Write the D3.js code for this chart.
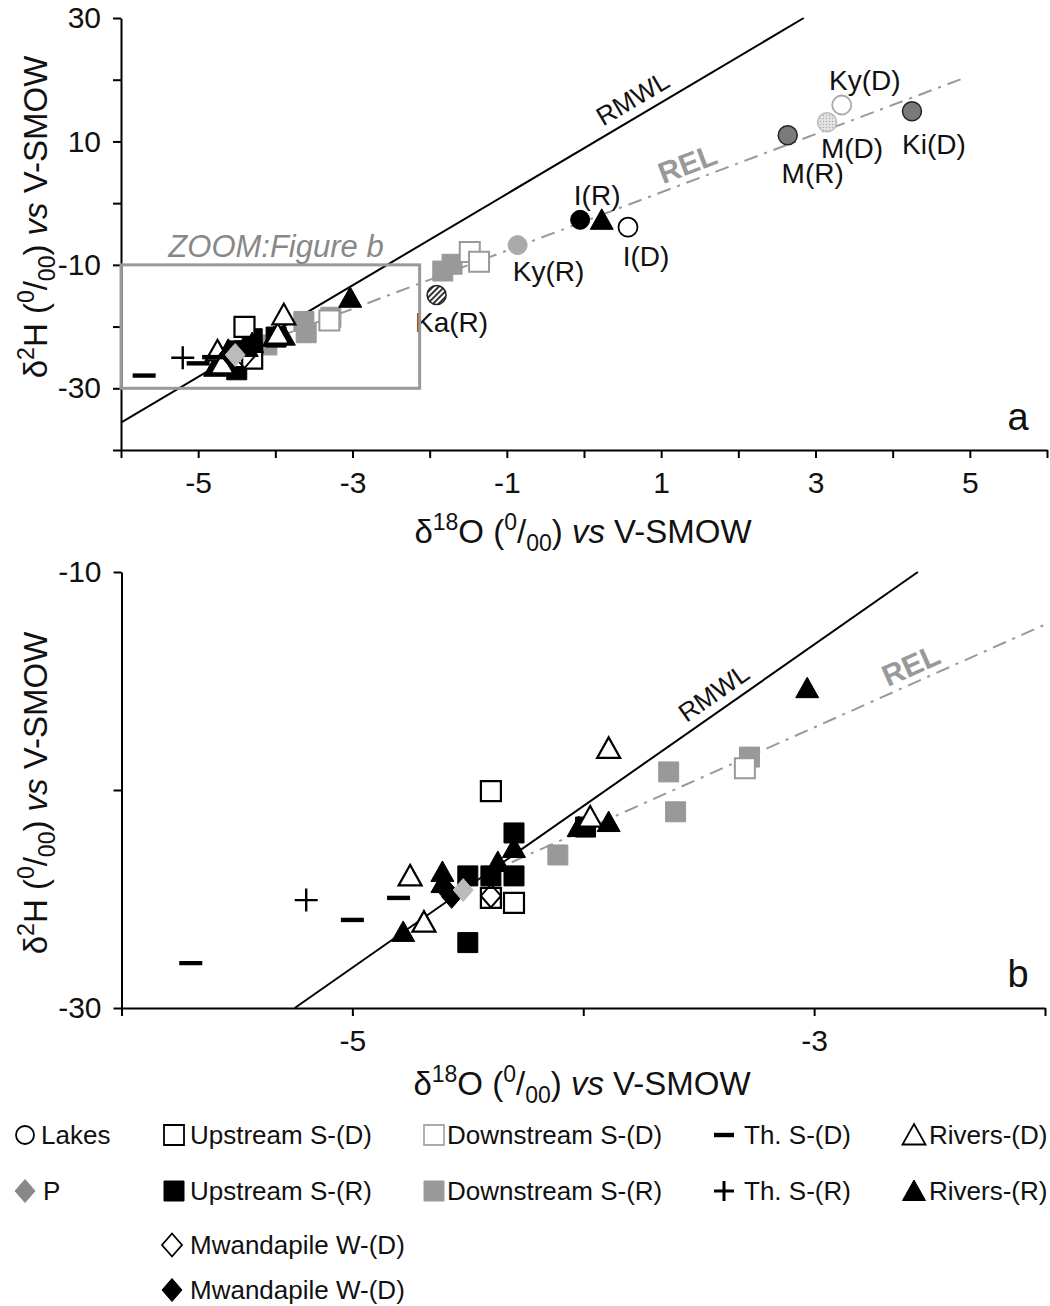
<!DOCTYPE html>
<html><head><meta charset="utf-8">
<script src="https://cdn.jsdelivr.net/npm/d3@7"></script>
<style>
body{margin:0;background:#fff;}
svg{display:block;font-family:"Liberation Sans",Arial,sans-serif;}
</style></head><body>
<svg id="c" width="1050" height="1306"></svg>
<script>
// ---------------- DATA ----------------
const lakeNames = ["Ka(R)","Ky(R)","I(R)","I(D)","M(R)","M(D)","Ky(D)","Ki(D)"];
const lakeX = [-1.91,-0.86,-0.05,0.57,2.64,3.15,3.34,4.25];
const lakeY = [-14.9,-6.8,-2.7,-3.9,11.0,13.1,15.9,14.9];

const upstreamD_X = [-4.40,-4.40,-4.30];
const upstreamD_Y = [-20.05,-24.95,-25.18];
const upstreamR_X = [-4.50,-4.40,-4.30,-4.30,-4.50,-3.99];
const upstreamR_Y = [-23.94,-23.94,-23.94,-21.97,-27.0,-21.7];
const downstreamD_X = [-3.30,-1.48,-1.36];
const downstreamD_Y = [-19.0,-7.9,-9.5];
const downstreamR_X = [-4.11,-3.63,-3.60,-3.28,-1.83,-1.71];
const downstreamR_Y = [-22.98,-19.17,-21.0,-18.49,-11.0,-9.9];
const thD_X = [-5.70,-5.00,-4.80];
const thD_Y = [-27.94,-25.96,-24.95];
const thR_X = [-5.20];
const thR_Y = [-25.05];
const riversD_X = [-4.75,-4.69,-3.97,-3.89];
const riversD_Y = [-23.94,-26.06,-21.24,-18.09];
const riversR_X = [-4.78,-4.61,-4.61,-4.37,-4.30,-4.02,-3.89,-3.03,0.23];
const riversR_Y = [-26.51,-23.76,-24.27,-23.3,-22.66,-21.7,-21.47,-15.33,-2.7];
const mwOpen_X = [-4.40];
const mwOpen_Y = [-24.86];
const mwBlack_X = [-4.60,-4.57];
const mwBlack_Y = [-24.5,-24.9];
const p_X = [-4.52];
const p_Y = [-24.59];

// Lines: d2H = slope * d18O + intercept
const rmwlSlope = 7.41, rmwlIntercept = 8.9;
const relSlope = 4.72, relIntercept = -2.97;
const relStartX = -4.31, relEndXTop = 4.96;

const topXTicks = [-6,-5,-4,-3,-2,-1,0,1,2,3,4,5,6];
const topXLabels = [-5,-3,-1,1,3,5];
const topYTicks = [-40,-30,-20,-10,0,10,20,30];
const topYLabels = [30,10,-10,-30];
const botXTicks = [-6,-5,-4,-3,-2];
const botXLabels = [-5,-3];
const botYTicks = [-30,-20,-10];
const botYLabels = [-10,-30];

const legendRow1 = ["Lakes","Upstream S-(D)","Downstream S-(D)","Th. S-(D)","Rivers-(D)"];
const legendRow2 = ["P","Upstream S-(R)","Downstream S-(R)","Th. S-(R)","Rivers-(R)"];
const legendRow3 = ["Mwandapile W-(D)"];
const legendRow4 = ["Mwandapile W-(D)"];

// ---------------- STYLE ----------------
const lakeStyle = {
  "Ka(R)": {fill:"url(#hatch)", stroke:"#222", sw:1.5},
  "Ky(R)": {fill:"#aaa", stroke:"#aaa", sw:1},
  "I(R)":  {fill:"#000", stroke:"#000", sw:1},
  "I(D)":  {fill:"#fff", stroke:"#000", sw:1.8},
  "M(R)":  {fill:"#7a7a7a", stroke:"#222", sw:1.5},
  "M(D)":  {fill:"url(#dots)", stroke:"#bbb", sw:1.5},
  "Ky(D)": {fill:"#fff", stroke:"#aaa", sw:1.8},
  "Ki(D)": {fill:"#7a7a7a", stroke:"#222", sw:1.5}
};
const lakeLabelOffset = {
  "Ka(R)":[15,37], "Ky(R)":[31,36], "I(R)":[17,-15], "I(D)":[18,39],
  "M(R)":[25,48], "M(D)":[25,36], "Ky(D)":[23,-15], "Ki(D)":[22,43]
};

const svg = d3.select("#c");
const defs = svg.append("defs");
const hp = defs.append("pattern").attr("id","hatch").attr("patternUnits","userSpaceOnUse")
  .attr("width",4).attr("height",4).attr("patternTransform","rotate(45)");
hp.append("rect").attr("width",4).attr("height",4).attr("fill","#fff");
hp.append("rect").attr("width",2).attr("height",4).attr("fill","#333");
const dp = defs.append("pattern").attr("id","dots").attr("patternUnits","userSpaceOnUse")
  .attr("width",3).attr("height",3);
dp.append("rect").attr("width",3).attr("height",3).attr("fill","#e4e4e4");
dp.append("circle").attr("cx",1.5).attr("cy",1.5).attr("r",0.7).attr("fill","#aaa");

const sq = "M-10,-10H10V10H-10Z";
const tri = "M0,-11L11.5,9.5L-11.5,9.5Z";
const dia = "M0,-11.5L10,0L0,11.5L-10,0Z";

function zip(xs, ys){ return xs.map((v,i)=>({x:v, y:ys[i]})); }

const series = [
  {data: zip(downstreamR_X, downstreamR_Y), path: sq, fill:"#999", stroke:"#999", sw:1},
  {data: zip(downstreamD_X, downstreamD_Y), path: sq, fill:"#fff", stroke:"#999", sw:2},
  {data: zip(upstreamR_X, upstreamR_Y), path: sq, fill:"#000", stroke:"#000", sw:1},
  {data: zip(upstreamD_X, upstreamD_Y), path: sq, fill:"#fff", stroke:"#000", sw:2.2},
  {data: zip(riversR_X, riversR_Y), path: tri, fill:"#000", stroke:"#000", sw:1},
  {data: zip(riversD_X, riversD_Y), path: tri, fill:"#fff", stroke:"#000", sw:2.2},
  {data: zip(mwBlack_X, mwBlack_Y), path: dia, fill:"#000", stroke:"#000", sw:1},
  {data: zip(mwOpen_X, mwOpen_Y), path: dia, fill:"none", stroke:"#000", sw:2},
  {data: zip(p_X, p_Y), path: dia, fill:"#bbb", stroke:"#bbb", sw:1},
  {data: zip(thD_X, thD_Y), path: "M-11.5,-2.2H11.5V2.2H-11.5Z", fill:"#000", stroke:"none", sw:0},
  {data: zip(thR_X, thR_Y), path: "M-11.5,0H11.5M0,-11.5V11.5", fill:"none", stroke:"#000", sw:2.4}
];

const TF = 33, TS = 23, SUP = 13, SUB = 8;
function titleSpans(t, iso){
  t.append("tspan").text("δ");
  t.append("tspan").attr("dy",-SUP).attr("font-size",TS).text(iso);
  t.append("tspan").attr("dy",SUP).text(iso==="18" ? "O (" : "H (");
  t.append("tspan").attr("dy",-SUP).attr("font-size",TS).text("0");
  t.append("tspan").attr("dy",SUP).text("/");
  t.append("tspan").attr("dy",SUB).attr("font-size",TS).text("00");
  t.append("tspan").attr("dy",-SUB).text(") ");
  t.append("tspan").attr("font-style","italic").text("vs");
  t.append("tspan").text(" V-SMOW");
}
function drawTitleX(g, cx, baseline){
  const t = g.append("text").attr("x",cx).attr("y",baseline).attr("text-anchor","middle")
    .attr("font-size",TF).attr("fill","#111");
  titleSpans(t, "18");
}
function drawTitleY(g, x, cy){
  const t = g.append("text").attr("transform",`translate(${x},${cy}) rotate(-90)`)
    .attr("text-anchor","middle").attr("font-size",TF).attr("fill","#111");
  titleSpans(t, "2");
}

function styleAxis(g){
  g.selectAll("path.domain").attr("stroke","#000").attr("stroke-width",2);
  g.selectAll(".tick line").attr("stroke","#000").attr("stroke-width",2);
  g.selectAll(".tick text").attr("fill","#111").attr("font-family",'"Liberation Sans",Arial,sans-serif');
}

function drawPanel(opt){
  const {x, y, xTicks, xLabels, yTicks, yLabels, lx0, lx1, relX0, relX1, clipId} = opt;
  const g = svg.append("g");
  defs.append("clipPath").attr("id",clipId).append("rect")
    .attr("x",x.range()[0]).attr("y",y.range()[1]-12)
    .attr("width",x.range()[1]-x.range()[0]+30).attr("height",y.range()[0]-y.range()[1]+12);

  const rm = d => rmwlSlope*d + rmwlIntercept;
  g.append("line").attr("x1",x(lx0)).attr("y1",y(rm(lx0))).attr("x2",x(lx1)).attr("y2",y(rm(lx1)))
    .attr("stroke","#000").attr("stroke-width",2);
  const rl = d => relSlope*d + relIntercept;
  g.append("line").attr("x1",x(relX0)).attr("y1",y(rl(relX0))).attr("x2",x(relX1)).attr("y2",y(rl(relX1)))
    .attr("stroke","#999").attr("stroke-width",2).attr("stroke-dasharray","14,7,3,7");

  const angR = Math.atan2(y(rm(lx1))-y(rm(lx0)), x(lx1)-x(lx0))*180/Math.PI;
  const angE = Math.atan2(y(rl(relX1))-y(rl(relX0)), x(relX1)-x(relX0))*180/Math.PI;
  const pr = opt.rmwlLabelX, pe = opt.relLabelX;
  g.append("text").attr("transform",`translate(${x(pr)},${y(rm(pr))}) rotate(${angR}) translate(0,-9)`)
    .attr("text-anchor","middle").attr("font-size",26).attr("fill","#111").text("RMWL");
  g.append("text").attr("transform",`translate(${x(pe)},${y(rl(pe))}) rotate(${angE}) translate(0,-7)`)
    .attr("text-anchor","middle").attr("font-size",30).attr("fill","#999").attr("font-weight","bold").text("REL");

  const ax = g.append("g").attr("transform",`translate(0,${y.range()[0]})`)
    .call(d3.axisBottom(x).tickValues(xTicks).tickSize(8).tickSizeOuter(0).tickPadding(opt.xPad)
      .tickFormat(d => xLabels.includes(d) ? String(d) : ""));
  ax.selectAll(".tick text").attr("font-size",30);
  styleAxis(ax);
  const ay = g.append("g").attr("transform",`translate(${x.range()[0]},0)`)
    .call(d3.axisLeft(y).tickValues(yTicks).tickSize(8).tickSizeOuter(0).tickPadding(12)
      .tickFormat(d => yLabels.includes(d) ? String(d) : ""));
  ay.selectAll(".tick text").attr("font-size",30);
  styleAxis(ay);

  const mg = g.append("g").attr("clip-path",`url(#${clipId})`);
  const [dx0, dx1] = x.domain(), [dy0, dy1] = y.domain();
  series.forEach(s => {
    mg.selectAll(null).data(s.data.filter(d => d.x>=dx0 && d.x<=dx1 && d.y>=dy0 && d.y<=dy1))
      .join("path").attr("d", s.path)
      .attr("transform", d => `translate(${x(d.x)},${y(d.y)})`)
      .attr("fill", s.fill).attr("stroke", s.stroke).attr("stroke-width", s.sw);
  });
  return {g, mg};
}

// ---------------- TOP PANEL ----------------
const xTop = d3.scaleLinear().domain([-6,6]).range([121,1047]);
const yTop = d3.scaleLinear().domain([-40,30]).range([450,18]);
const panelA = drawPanel({x:xTop, y:yTop, xTicks:topXTicks, xLabels:topXLabels, yTicks:topYTicks, yLabels:topYLabels,
  lx0:-6, lx1:(30-rmwlIntercept)/rmwlSlope, relX0:relStartX, relX1:relEndXTop,
  rmwlLabelX:0.75, relLabelX:1.42, xPad:14, clipId:"clipTop"});

const lakes = lakeNames.map((n,i)=>({name:n, x:lakeX[i], y:lakeY[i]}));
panelA.mg.selectAll(null).data(lakes).join("circle")
  .attr("cx", d=>xTop(d.x)).attr("cy", d=>yTop(d.y)).attr("r",9.5)
  .attr("fill", d=>lakeStyle[d.name].fill).attr("stroke", d=>lakeStyle[d.name].stroke)
  .attr("stroke-width", d=>lakeStyle[d.name].sw);
panelA.g.selectAll(null).data(lakes).join("text")
  .attr("x", d=>xTop(d.x)+lakeLabelOffset[d.name][0]).attr("y", d=>yTop(d.y)+lakeLabelOffset[d.name][1])
  .attr("text-anchor","middle").attr("font-size",28).attr("fill","#111").text(d=>d.name);

panelA.g.append("rect").attr("x",xTop(-6)).attr("y",yTop(-10)).attr("width",xTop(-2.13)-xTop(-6))
  .attr("height",yTop(-30)-yTop(-10)).attr("fill","none").attr("stroke","#999").attr("stroke-width",3);
panelA.g.append("text").attr("x",276).attr("y",257).attr("text-anchor","middle").attr("font-size",31)
  .attr("font-style","italic").attr("fill","#888").text("ZOOM:Figure b");
panelA.g.append("text").attr("x",1018).attr("y",430).attr("text-anchor","middle").attr("font-size",38).attr("fill","#111").text("a");
drawTitleX(svg, 583, 543);
drawTitleY(svg, 47, 217);

// ---------------- BOTTOM PANEL ----------------
const xBot = d3.scaleLinear().domain([-6,-2]).range([121.5,1045]);
const yBot = d3.scaleLinear().domain([-30,-10]).range([1008,572]);
const panelB = drawPanel({x:xBot, y:yBot, xTicks:botXTicks, xLabels:botXLabels, yTicks:botYTicks, yLabels:botYLabels,
  lx0:(-30-rmwlIntercept)/rmwlSlope, lx1:(-10-rmwlIntercept)/rmwlSlope, relX0:relStartX, relX1:-2,
  rmwlLabelX:-3.39, relLabelX:-2.55, xPad:14, clipId:"clipBot"});
panelB.g.append("text").attr("x",1018).attr("y",987).attr("text-anchor","middle").attr("font-size",38).attr("fill","#111").text("b");
drawTitleX(svg, 582, 1095);
drawTitleY(svg, 47, 793);

// ---------------- LEGEND ----------------
const lg = svg.append("g");
const rowsY = [1135, 1191, 1245, 1290];
const colSym = [25, 174, 434, 724, 914];
const colTxt = [41, 190, 447, 744, 929];
const legSym1 = [
  {type:"circle"},
  {path:sq, fill:"#fff", stroke:"#000", sw:1.8},
  {path:sq, fill:"#fff", stroke:"#aaa", sw:1.8},
  {path:"M-10,-2.2H10V2.2H-10Z", fill:"#000", stroke:"none", sw:0},
  {path:tri, fill:"#fff", stroke:"#000", sw:1.8}
];
const legSym2 = [
  {path:dia, fill:"#888", stroke:"#888", sw:1},
  {path:sq, fill:"#000", stroke:"#000", sw:1},
  {path:sq, fill:"#999", stroke:"#999", sw:1},
  {path:"M-10,0H10M0,-10V10", fill:"none", stroke:"#000", sw:3},
  {path:tri, fill:"#000", stroke:"#000", sw:1}
];
function legendRow(labels, syms, cy, symCols, txtCols){
  labels.forEach((lab,i)=>{
    const s = syms[i];
    if (s.type==="circle") {
      lg.append("circle").attr("cx",symCols[i]).attr("cy",cy).attr("r",9).attr("fill","#fff").attr("stroke","#000").attr("stroke-width",1.8);
    } else {
      lg.append("path").attr("d",s.path).attr("transform",`translate(${symCols[i]},${cy})`)
        .attr("fill",s.fill).attr("stroke",s.stroke).attr("stroke-width",s.sw);
    }
    lg.append("text").attr("x",txtCols[i]).attr("y",cy+9).attr("font-size",26).attr("fill","#111").text(lab);
  });
}
legendRow(legendRow1, legSym1, rowsY[0], colSym, colTxt);
legendRow(legendRow2, legSym2, rowsY[1], colSym, [43,190,447,744,929]);
legendRow(legendRow3, [{path:dia, fill:"#fff", stroke:"#000", sw:1.8}], rowsY[2], [172], [190]);
legendRow(legendRow4, [{path:dia, fill:"#000", stroke:"#000", sw:1}], rowsY[3], [172], [190]);
</script>
</body></html>
